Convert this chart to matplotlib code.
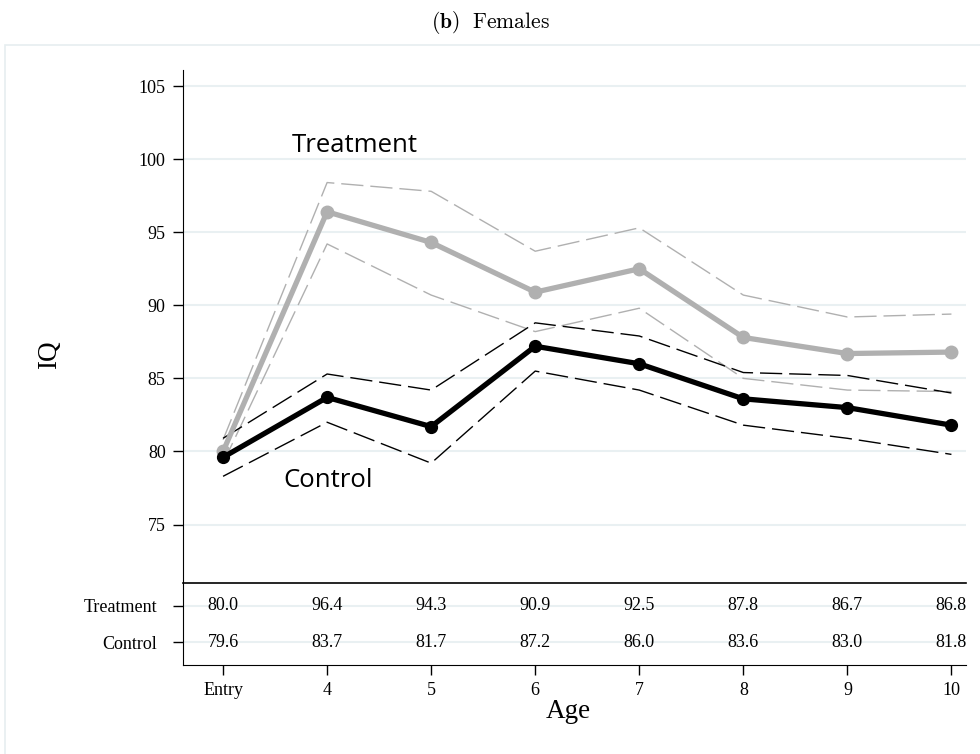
import numpy as np
import matplotlib
matplotlib.use("Agg")
import matplotlib.pyplot as plt
from matplotlib.patches import Rectangle

# data
ages = ["Entry", "4", "5", "6", "7", "8", "9", "10"]
treat = [80.0, 96.4, 94.3, 90.9, 92.5, 87.8, 86.7, 86.8]
treat_hi = [80.8, 98.4, 97.8, 93.7, 95.3, 90.7, 89.2, 89.4]
treat_lo = [79.2, 94.2, 90.7, 88.2, 89.8, 85.0, 84.2, 84.1]
ctrl = [79.6, 83.7, 81.7, 87.2, 86.0, 83.6, 83.0, 81.8]
ctrl_hi = [80.9, 85.3, 84.2, 88.8, 87.9, 85.4, 85.2, 84.0]
ctrl_lo = [78.3, 82.0, 79.2, 85.5, 84.2, 81.8, 80.9, 79.8]
yticks = [75, 80, 85, 90, 95, 100, 105]

serif = ["Liberation Serif", "DejaVu Serif"]
plt.rcParams["font.family"] = serif
grid_c = "#e9f0f2"
gray = "#b0b0b0"
fs = 13

fig = plt.figure(figsize=(9.8, 7.54), dpi=100)
W, H = 980, 754

# outer light frame
fig.patches.append(Rectangle((5 / W, -0.01), 1.0, 1 - 45 / H + 0.01,
                             transform=fig.transFigure, fill=False,
                             edgecolor="#e6eef0", lw=1.2))

fig.text(0.5, 1 - 22 / H, r"$\mathbf{(b)}\ \ \mathrm{Females}$",
         ha="center", va="center", fontsize=15.5,
         math_fontfamily="cm")

left = 183 / W
width = (966 - 183) / W
ax = fig.add_axes([left, 1 - 583 / H, width, (583 - 70) / H])
axt = fig.add_axes([left, 1 - 665 / H, width, (665 - 583) / H], sharex=ax)

x = np.arange(len(ages))

for yv in yticks:
    ax.axhline(yv, color=grid_c, lw=1.5, zorder=0)

dash = (0, (16, 5))
ax.plot(x, treat_hi, color=gray, lw=1.0, ls=dash)
ax.plot(x, treat_lo, color=gray, lw=1.0, ls=dash)
ax.plot(x, ctrl_hi, color="black", lw=1.0, ls=dash)
ax.plot(x, ctrl_lo, color="black", lw=1.0, ls=dash)
ax.plot(x, treat, color=gray, lw=3.8, marker="o", ms=9, zorder=3)
ax.plot(x, ctrl, color="black", lw=3.8, marker="o", ms=8.5, zorder=4)

ax.text(1.27, 100.95, "Treatment", fontsize=18.5, family="Open Sans",
        ha="center", va="center")
ax.text(1.01, 78.0, "Control", fontsize=18.5, family="Open Sans",
        ha="center", va="center")

ax.set_ylim(71.0, 106.1)
ax.set_xlim(-0.385, 7.14)
ax.set_yticks(yticks)
ax.set_yticklabels([str(v) for v in yticks], fontsize=fs)
for s in ["top", "right", "bottom"]:
    ax.spines[s].set_visible(False)
ax.tick_params(axis="x", bottom=False, labelbottom=False)
ax.tick_params(axis="y", length=7.5, width=1, pad=5)

# table of values below the plot
rows = [("Treatment", treat, 0.72), ("Control", ctrl, 0.28)]
for name, vals, yy in rows:
    axt.axhline(yy, color=grid_c, lw=1.5, zorder=0)
    for xi, v in zip(x, vals):
        axt.text(xi, yy, f"{v:.1f}", ha="center", va="center", fontsize=fs)
axt.set_ylim(0, 1)
axt.set_yticks([r[2] for r in rows])
axt.set_yticklabels([r[0] for r in rows], fontsize=fs)
axt.spines["right"].set_visible(False)
axt.spines["top"].set_linewidth(1.2)
axt.tick_params(axis="y", length=7.5, width=1, pad=11)
axt.tick_params(axis="x", length=7.5, width=1, pad=5)
axt.set_xticks(x)
axt.set_xticklabels(ages, fontsize=fs)

fig.text(50 / W, 1 - 355 / H, "IQ", rotation=90, fontsize=19.5,
         ha="center", va="center")
fig.text(568 / W, 1 - 711 / H, "Age", fontsize=19.5,
         ha="center", va="center")

fig.savefig("out.png", dpi=100)
